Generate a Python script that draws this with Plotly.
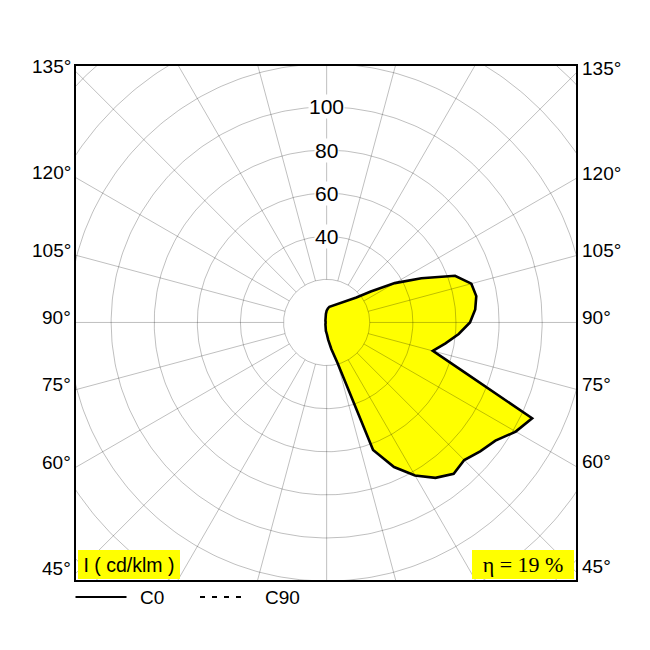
import numpy as np
import plotly.graph_objects as go

# ---------------- data ----------------
gamma_deg = list(range(0, 181, 5))  # vertical angle from nadir
c0_cd_klm = [5, 8, 12.5, 19.5, 63, 74, 82, 88, 91.7, 90.3,
             93, 95.6, 101.3, 105.2, 68.5, 51, 56, 61.5, 66.5, 69.2,
             70.5, 69.5, 63.4, 48.5, 36.5, 25, 18, 14.7, 12.7, 11.3,
             10.1, 9.2, 8.6, 8.1, 7.4, 6.5, 5.5]
c180_cd_klm = [5, 4, 3, 2.3, 1.8, 1.5, 1.2, 1.0, 0.9, 0.7,
               0.6, 0.6, 0.6, 0.6, 0.6, 0.6, 0.6, 0.6, 0.6, 0.6,
               0.6, 0.6, 0.6, 0.6, 0.6, 0.6, 0.6, 0.7, 0.9, 1.0,
               1.3, 1.6, 2.0, 2.4, 3.0, 4.0, 5.5]
radial_tick_values = [40, 60, 80, 100]
grid_radii = [20, 40, 60, 80, 100, 120, 140, 160]
grid_angle_step = 15
side_angle_labels = [135, 120, 105, 90, 75, 60, 45]
unit_label = "I ( cd/klm )"
efficiency_pct = 19
legend_names = ["C0", "C90"]

# ---------------- geometry helpers ----------------
X_MIN, X_MAX = -116.3, 115.7
Y_MIN, Y_MAX = -119.5, 119.0

g = np.radians(np.array(gamma_deg, dtype=float))
c0 = np.array(c0_cd_klm, dtype=float)
c180 = np.array(c180_cd_klm, dtype=float)

# C0 half-plane on the right, C180 on the left; 0 deg = nadir (down)
x_curve = np.concatenate([c0 * np.sin(g), (-c180 * np.sin(g))[::-1]])
y_curve = np.concatenate([-c0 * np.cos(g), (-c180 * np.cos(g))[::-1]])
x_curve = np.append(x_curve, x_curve[0])
y_curve = np.append(y_curve, y_curve[0])

GRID = "rgba(0,0,0,0.25)"

fig = go.Figure()

# yellow fill
fig.add_trace(go.Scatter(x=x_curve, y=y_curve, mode="lines", fill="toself",
                         fillcolor="#ffff00", line=dict(width=0),
                         hoverinfo="skip", showlegend=False))

# grid circles
t = np.linspace(0, 2 * np.pi, 361)
cx, cy = [], []
for r in grid_radii:
    cx += list(r * np.cos(t)) + [None]
    cy += list(r * np.sin(t)) + [None]
fig.add_trace(go.Scatter(x=cx, y=cy, mode="lines",
                         line=dict(color=GRID, width=1),
                         hoverinfo="skip", showlegend=False))

# radial grid lines (start at the inner circle)
rx, ry = [], []
r_in, r_out = grid_radii[0], 175
for a in range(0, 360, grid_angle_step):
    ar = np.radians(a)
    rx += [r_in * np.sin(ar), r_out * np.sin(ar), None]
    ry += [-r_in * np.cos(ar), -r_out * np.cos(ar), None]
fig.add_trace(go.Scatter(x=rx, y=ry, mode="lines",
                         line=dict(color=GRID, width=1),
                         hoverinfo="skip", showlegend=False))

# black outline (C0 / C180)
fig.add_trace(go.Scatter(x=x_curve, y=y_curve, mode="lines",
                         line=dict(color="black", width=2.6),
                         name=legend_names[0], hoverinfo="skip",
                         showlegend=False))

SANS = "Liberation Sans, Arial, sans-serif"
SERIF = "Liberation Serif, Times New Roman, serif"

annotations = []
# radial value labels on the vertical
for v in radial_tick_values:
    annotations.append(dict(x=0, y=v, xref="x", yref="y", text=str(v),
                            showarrow=False, bgcolor="white", borderpad=0,
                            font=dict(family=SANS, size=21, color="black")))

# angle labels outside the frame
for a in side_angle_labels:
    ar = np.radians(a)
    yl = -abs(X_MIN) * np.cos(ar) / np.sin(ar)
    yr = -abs(X_MAX) * np.cos(ar) / np.sin(ar)
    annotations.append(dict(x=0, y=yl, xref="paper", yref="y", text=f"{a}°",
                            xanchor="right", yanchor="middle", xshift=-3, yshift=5,
                            showarrow=False,
                            font=dict(family=SANS, size=19, color="black")))
    annotations.append(dict(x=1, y=yr, xref="paper", yref="y", text=f"{a}°",
                            xanchor="left", yanchor="middle", xshift=4, yshift=5,
                            showarrow=False,
                            font=dict(family=SANS, size=19, color="black")))

# unit box and efficiency box
annotations.append(dict(x=0.004, y=0.001, xref="paper", yref="paper",
                        xanchor="left", yanchor="bottom", text=unit_label,
                        showarrow=False, bgcolor="#ffff00", borderwidth=0,
                        borderpad=0, width=102, height=29, align="center",
                        font=dict(family=SANS, size=19.5, color="black")))
annotations.append(dict(x=0.996, y=0.001, xref="paper", yref="paper",
                        xanchor="right", yanchor="bottom",
                        text=f"η = {efficiency_pct} %",
                        showarrow=False, bgcolor="#ffff00", borderwidth=0,
                        borderpad=0, width=102, height=29, align="center",
                        font=dict(family=SERIF, size=22, color="black")))

# manual legend below the frame
annotations.append(dict(x=0.124, y=-0.035, xref="paper", yref="paper",
                        xanchor="left", yanchor="middle", text=legend_names[0],
                        showarrow=False,
                        font=dict(family=SANS, size=19, color="black")))
annotations.append(dict(x=0.374, y=-0.035, xref="paper", yref="paper",
                        xanchor="left", yanchor="middle", text=legend_names[1],
                        showarrow=False,
                        font=dict(family=SANS, size=19, color="black")))

shapes = [
    dict(type="line", xref="paper", yref="paper", x0=-0.001, x1=0.101,
         y0=-0.033, y1=-0.033, line=dict(color="black", width=2)),
    dict(type="line", xref="paper", yref="paper", x0=0.248, x1=0.336,
         y0=-0.033, y1=-0.033, line=dict(color="black", width=2, dash="5px,7px")),
]

fig.update_layout(
    width=650, height=650,
    margin=dict(l=68, r=82, t=58, b=78),
    paper_bgcolor="white", plot_bgcolor="white",
    showlegend=False,
    annotations=annotations,
    shapes=shapes,
    xaxis=dict(range=[X_MIN, X_MAX], showgrid=False, zeroline=False,
               showticklabels=False, ticks="", showline=True, mirror=True,
               linecolor="black", linewidth=2, fixedrange=True),
    yaxis=dict(range=[Y_MIN, Y_MAX], showgrid=False, zeroline=False,
               showticklabels=False, ticks="", showline=True, mirror=True,
               linecolor="black", linewidth=2, fixedrange=True),
)

fig.write_html("out.html")
